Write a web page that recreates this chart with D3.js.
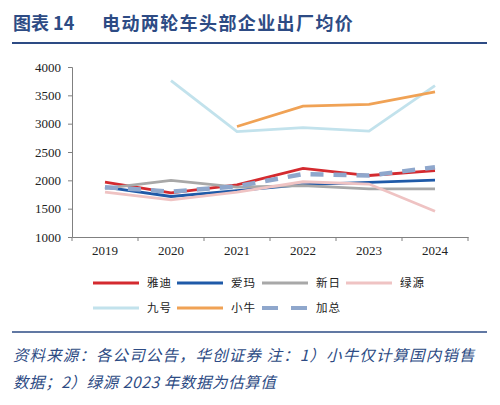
<!DOCTYPE html>
<html>
<head>
<meta charset="utf-8">
<script src="https://cdn.jsdelivr.net/npm/d3@7"></script>
<style>
  html, body { margin: 0; padding: 0; background: #fff; }
  svg { display: block; }
</style>
</head>
<body>
<svg id="chart" width="500" height="405"></svg>
<script>
// Data (元/辆)
const years = ['2019', '2020', '2021', '2022', '2023', '2024'];
const yadi   = [1970, 1780, 1920, 2210, 2085, 2170];
const aima   = [1880, 1715, 1820, 1925, 1965, 2005];
const xinri  = [1860, 2000, 1880, 1905, 1850, 1850];
const lvyuan = [1790, 1655, 1790, 1975, 1935, 1455];
const jiuhao = [null, 3760, 2860, 2930, 2870, 3670];
const xiaoniu = [null, null, 2950, 3310, 3340, 3560];
const jiazong = [1880, 1800, 1895, 2110, 2085, 2230];
const yTicks = [1000, 1500, 2000, 2500, 3000, 3500, 4000];

const series = [
  { name: '雅迪', values: yadi,    color: '#d42a2f', width: 2.8 },
  { name: '爱玛', values: aima,    color: '#1f5aa8', width: 2.8 },
  { name: '新日', values: xinri,   color: '#a8a8a8', width: 2.8 },
  { name: '绿源', values: lvyuan,  color: '#efc3c3', width: 2.8 },
  { name: '九号', values: jiuhao,  color: '#c2e2ec', width: 2.8 },
  { name: '小牛', values: xiaoniu, color: '#f0a255', width: 2.8 },
  { name: '加总', values: jiazong, color: '#8fa7cc', width: 4.5, dash: '13,10' }
];

const svg = d3.select('#chart');
const serif = '"Liberation Serif", "DejaVu Serif", serif';
const cjk = '"Noto Sans CJK SC", sans-serif';
const navy = '#2d4b84';

// Title block
svg.append('text')
  .attr('x', 13).attr('y', 30)
  .attr('fill', navy)
  .style('font-family', cjk)
  .style('font-size', '18px')
  .style('font-weight', '700')
  .text('图表 14');
svg.append('text')
  .attr('x', 102).attr('y', 30)
  .attr('fill', navy)
  .style('font-family', cjk)
  .style('font-size', '18px')
  .style('font-weight', '700')
  .style('letter-spacing', '1.4px')
  .text('电动两轮车头部企业出厂均价');

svg.append('line')
  .attr('x1', 12).attr('x2', 487).attr('y1', 43).attr('y2', 43)
  .attr('stroke', navy).attr('stroke-width', 2.2);

// Plot area
const x = d3.scaleBand().domain(years).range([72, 468]);
const y = d3.scaleLinear().domain([1000, 4000]).range([237, 67]);

const g = svg.append('g');

// Y axis
const yAxis = g.append('g')
  .attr('transform', 'translate(72,0)')
  .attr('font-family', serif)
  .call(d3.axisLeft(y).tickValues(yTicks).tickSize(4).tickFormat(d3.format('d')));
yAxis.attr('font-family', serif);
yAxis.select('.domain').attr('stroke', '#808080');
yAxis.selectAll('.tick line').attr('stroke', '#808080');
yAxis.selectAll('.tick text')
  .style('font-family', serif).style('font-size', '13px').attr('fill', '#222')
  .attr('dx', '-4');

// X axis
const xAxis = g.append('g')
  .attr('transform', 'translate(0,237)')
  .call(d3.axisBottom(x).tickSize(0).tickSizeOuter(0));
xAxis.attr('font-family', serif);
xAxis.select('.domain').attr('stroke', '#808080');
xAxis.selectAll('.tick text')
  .style('font-family', serif).style('font-size', '13px').attr('fill', '#222')
  .attr('dy', '1.15em');
// Tick marks at band boundaries
g.selectAll('line.xtick')
  .data(years.concat(['end']))
  .join('line')
  .attr('class', 'xtick')
  .attr('x1', (d, i) => 72 + i * x.step())
  .attr('x2', (d, i) => 72 + i * x.step())
  .attr('y1', 237).attr('y2', 241)
  .attr('stroke', '#808080');

// Lines
const line = d3.line()
  .defined(d => d.v !== null)
  .x(d => x(d.year) + x.bandwidth() / 2)
  .y(d => y(d.v));

series.forEach(s => {
  const pts = years.map((yr, i) => ({ year: yr, v: s.values[i] }));
  g.append('path')
    .datum(pts)
    .attr('fill', 'none')
    .attr('stroke', s.color)
    .attr('stroke-width', s.width)
    .attr('stroke-dasharray', s.dash || null)
    .attr('d', line);
});

// Legend
const legendPos = [
  [93, 283], [177, 283], [262, 283], [346, 283],
  [93, 308], [177, 308], [262, 308]
];
series.forEach((s, i) => {
  const [lx, ly] = legendPos[i];
  svg.append('line')
    .attr('x1', lx).attr('x2', lx + 46)
    .attr('y1', ly).attr('y2', ly)
    .attr('stroke', s.color)
    .attr('stroke-width', s.dash ? 4 : 2.8)
    .attr('stroke-dasharray', s.dash ? '16,13' : null);
  svg.append('text')
    .attr('x', lx + 54).attr('y', ly + 4)
    .style('font-family', cjk).style('font-size', '11.5px').attr('fill', '#222')
    .style('letter-spacing', '1px')
    .text(s.name);
});

// Source block
svg.append('line')
  .attr('x1', 12).attr('x2', 487).attr('y1', 332).attr('y2', 332)
  .attr('stroke', navy).attr('stroke-width', 1.3);

const notes = [
  '资料来源：各公司公告，华创证券 注：1）小牛仅计算国内销售',
  '数据；2）绿源 2023 年数据为估算值'
];
svg.selectAll('text.note')
  .data(notes)
  .join('text')
  .attr('class', 'note')
  .attr('x', 13)
  .attr('y', (d, i) => 361 + i * 27)
  .attr('fill', navy)
  .style('font-family', cjk)
  .style('font-size', '15.5px')
  .style('font-style', 'italic')
  .style('letter-spacing', (d, i) => i === 0 ? '1.1px' : '0.6px')
  .text(d => d);
</script>
</body>
</html>
